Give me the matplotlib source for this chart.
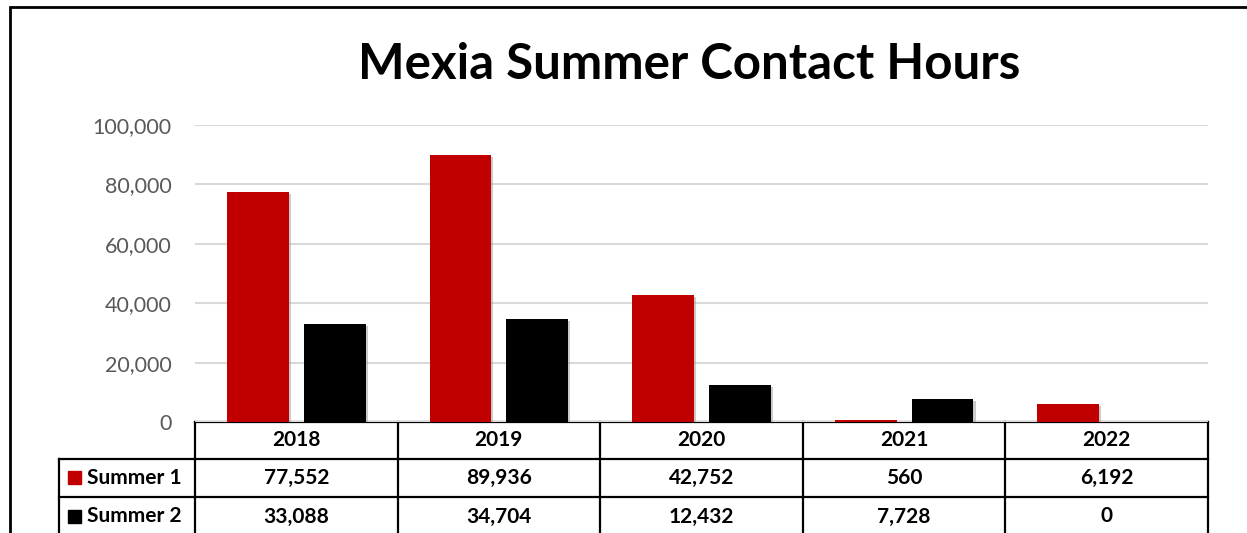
import matplotlib
matplotlib.use("Agg")
import matplotlib.pyplot as plt
import matplotlib.patheffects as pe
from matplotlib.patches import Rectangle

YEARS = ["2018", "2019", "2020", "2021", "2022"]
SERIES = ["Summer 1", "Summer 2"]
SUMMER_1 = [77552, 89936, 42752, 560, 6192]
SUMMER_2 = [33088, 34704, 12432, 7728, 0]
COLOURS = ["#C00000", "#000000"]
TITLE = "Mexia Summer Contact Hours"

W, H = 1247, 533
FONT = "Lato"

fig = plt.figure(figsize=(W / 100, H / 100), dpi=100)

# pixel-coordinate overlay for frame and table
ov = fig.add_axes([0, 0, 1, 1], zorder=0)
ov.set_xlim(0, W)
ov.set_ylim(H, 0)
ov.axis("off")

left, right, top, bottom = 195, 1208, 125, 422
ax = fig.add_axes([left / W, 1 - bottom / H, (right - left) / W, (bottom - top) / H], zorder=1)
ax.patch.set_alpha(0)

n = len(YEARS)
x = list(range(n))
bw = 0.305
shadow = [pe.SimplePatchShadow(offset=(1.5, -1.5), shadow_rgbFace="#999999", alpha=0.5), pe.Normal()]
for vals, col, off in [(SUMMER_1, COLOURS[0], -0.19), (SUMMER_2, COLOURS[1], 0.19)]:
    bars = ax.bar([i + off for i in x], vals, width=bw, color=col, zorder=3)
    for b in bars:
        b.set_path_effects(shadow)

ax.set_xlim(-0.5, n - 0.5)
ax.set_ylim(0, 100000)
ax.set_yticks(range(0, 100001, 20000))
ax.set_yticklabels([f"{v:,}" for v in range(0, 100001, 20000)], fontsize=15.5, color="#595959", family=FONT)
ax.tick_params(axis="y", length=0, pad=17)
ax.set_xticks([])
ax.grid(axis="y", color="#D9D9D9", linewidth=1.5, zorder=0)
for s in ax.spines.values():
    s.set_visible(False)

fig.text(689 / W, 1 - 64 / H, TITLE, ha="center", va="center", fontsize=35.5,
         fontweight="bold", family=FONT)

# outer frame
ov.plot([10, 10, W + 5], [H + 5, 7, 7], color="black", lw=2, solid_joinstyle="miter")

# data table
row_y = [422, 459, 497, 536]
col_x = [left + i * (right - left) / n for i in range(n + 1)]
lw = 1.6
ov.plot([left, right], [row_y[0], row_y[0]], color="black", lw=lw)
for yy in row_y[1:3]:
    ov.plot([59, right], [yy, yy], color="black", lw=lw)
for xx in col_x:
    ov.plot([xx, xx], [row_y[0], H + 5], color="black", lw=lw)
ov.plot([59, 59], [row_y[1], H + 5], color="black", lw=lw)

tfs = 15
for i, yr in enumerate(YEARS):
    cx = (col_x[i] + col_x[i + 1]) / 2
    ov.text(cx, (row_y[0] + row_y[1]) / 2, yr, ha="center", va="center",
            fontsize=tfs, fontweight="bold", family=FONT)
    for r, vals in enumerate([SUMMER_1, SUMMER_2]):
        ov.text(cx, (row_y[r + 1] + row_y[r + 2]) / 2, f"{vals[i]:,}", ha="center",
                va="center", fontsize=tfs, fontweight="bold", family=FONT)

for r, name in enumerate(SERIES):
    cy = (row_y[r + 1] + row_y[r + 2]) / 2
    ov.add_patch(Rectangle((68, cy - 7), 13, 13, color=COLOURS[r]))
    ov.text(87, cy, name, ha="left", va="center", fontsize=tfs, fontweight="bold", family=FONT)

fig.savefig("out.png", dpi=100)
